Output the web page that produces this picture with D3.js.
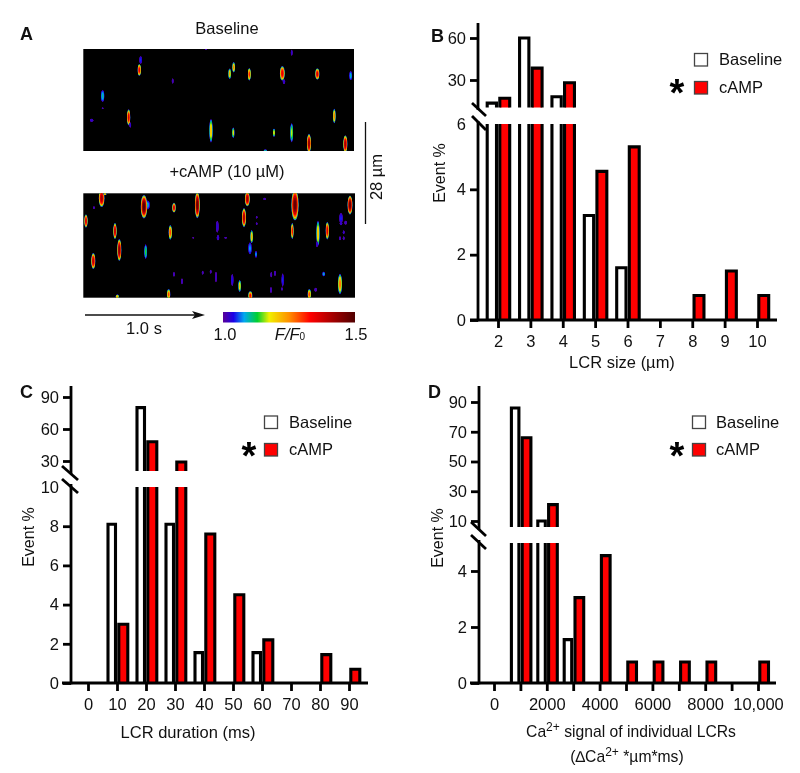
<!DOCTYPE html>
<html><head><meta charset="utf-8">
<script src="https://cdn.jsdelivr.net/npm/d3@7"></script>
<style>
html,body{margin:0;padding:0;background:#fff}
svg{display:block;filter:blur(0.35px)}
text{font-family:"Liberation Sans",Arial,sans-serif;fill:#111}
</style></head><body><svg id="fig" width="800" height="773"></svg>
<script>
// ---------- Panel B: LCR size ----------
const sizeCategories = [2,3,4,5,6,7,8,9,10];
const sizeBaseline   = [13.5,60,18,3.2,1.6,0,0,0,0];
const sizeCamp       = [17,38.5,28,4.55,5.3,0,0.75,1.5,0.75];
// ---------- Panel C: LCR duration ----------
const durationCategories = [0,10,20,30,40,50,60,70,80,90];
const durationBaseline   = [0,8.1,80,8.1,1.55,0,1.55,0,0,0];
const durationCamp       = [0,3,48,29,7.6,4.5,2.2,0,1.45,0.7];
// ---------- Panel D: Ca2+ signal ----------
const signalCategories = [0,1000,2000,3000,4000,5000,6000,7000,8000,9000,10000];
const signalBaseline   = [0,86,10,1.55,0,0,0,0,0,0,0];
const signalCamp       = [0,66,21,3.05,4.55,0.75,0.75,0.75,0.75,0,0.75];
const signalLabels     = ["0","2000","4000","6000","8000","10,000"];
// ---------- Panel A: line-scan events [line, row, halfRows, halfLines, peak F/F0] ----------
const baselineEvents = [
[182,60,10,3,1.05],[178,90,16,4,1.36],[378,28,2,2,1.02],[635,38,8,2,1.03],[461,82,14,3,1.27],
[449,101,14,3,1.24],[508,103,17,3.5,1.32],[607,100,20,6,1.36],[612,125,6,3,1.03],[712,102,15,5,1.38],
[812,107,12,3,1.1],[278,123,7,2,1.02],[68,168,16,4,1.1],[68,205,2,2,1.02],[35,241,4,4,1.03],
[146,232,22,4,1.38],[151,255,7,2,1.03],[763,228,20,3,1.27],[393,272,32,4,1.22],[460,278,14,2.5,1.2],
[582,278,11,2.5,1.2],[635,278,26,3.5,1.17],[687,310,26,5,1.44],[796,312,24,5,1.42],[556,333,4,4,1.12]];
const campEvents = [
[65,40,24,7,1.42],[75,27,3,4,1.25],[200,60,12,8,1.1],[192,65,32,8,1.5],[352,60,36,6,1.48],[502,42,20,6,1.42],
[645,60,42,9,1.48],[810,60,26,6,1.48],[42,68,3,2,1.02],[282,68,13,4,1.38],[554,42,3,3,1.02],[18,108,18,4,1.38],
[105,138,22,4,1.4],[118,195,30,5,1.45],[40,228,22,5,1.4],[492,98,26,5,1.42],[271,142,20,4,1.3],[197,200,20,3,1.14],
[412,125,16,3,1.03],[414,158,7,3,1.03],[437,158,2,3,1.02],[340,158,2,2,1.01],[515,155,18,3,1.24],[510,190,16,4,1.08],
[528,208,9,2.5,1.08],[530,97,3,2,1.02],[530,116,3,2,1.02],[637,138,22,3,1.34],[714,145,34,4,1.22],[711,178,8,2,1.03],
[742,137,24,4,1.37],[783,100,14,4,1.05],[797,113,5,3,1.02],[783,115,5,3,1.03],[791,142,5,2,1.03],[780,160,5,2,1.02],
[791,160,5,2,1.02],[282,268,6,2,1.02],[306,289,8,2,1.02],[368,263,5,2,1.02],[392,260,5,2,1.02],[408,276,14,2,1.02],
[457,285,16,2.5,1.04],[479,303,16,3,1.22],[574,269,7,2,1.02],[585,265,7,2,1.02],[573,315,8,2,1.02],[608,285,18,2.5,1.05],
[606,312,4,2,1.02],[731,267,6,3,1.1],[707,314,5,3,1.02],[780,297,28,5,1.27],[112,335,6,4,1.24],[266,328,14,4,1.3],
[511,332,12,5,1.34],[688,328,14,4,1.3]];
const ratioStops  = [1.0,1.04,1.08,1.13,1.175,1.25,1.33,1.42,1.5];
const ratioColors = ["#5a0098","#1a00e8","#00a8f0","#00d030","#f0f000","#ff9000","#ff0000","#a00000","#500000"];

const svg = d3.select("#fig");
const FS = 16.5;
const ratioColor = d3.scaleLinear().domain(ratioStops).range(ratioColors);
const defs = svg.append("defs");
defs.append("filter").attr("id","soft").append("feGaussianBlur").attr("stdDeviation",0.4);

function lineScan(id, events, xDom, yDom, xRange, yRange){
  const x = d3.scaleLinear().domain(xDom).range(xRange);
  const y = d3.scaleLinear().domain(yDom).range(yRange);
  defs.append("clipPath").attr("id",id).append("rect")
    .attr("x",xRange[0]).attr("y",yRange[0]).attr("width",xRange[1]-xRange[0]).attr("height",yRange[1]-yRange[0]);
  svg.append("rect").attr("x",xRange[0]).attr("y",yRange[0]).attr("width",xRange[1]-xRange[0]).attr("height",yRange[1]-yRange[0]).attr("fill","#000");
  const g = svg.append("g").attr("clip-path",`url(#${id})`).append("g").attr("filter","url(#soft)");
  const fractions = [0,.15,.3,.42,.55,.68,.8,.92,1];
  events.forEach(e=>{
    const [cx,cy,hr,hl,peak] = e;
    fractions.forEach(f=>{
      const level = 1 + (peak-1)*f;
      const k = Math.sqrt(1-0.9*Math.pow(f,1.6));
      g.append("ellipse").attr("cx",x(cx)).attr("cy",y(cy))
       .attr("rx",(x(hl)-x(0))*k*1.2).attr("ry",(y(hr)-y(0))*k*1.1).attr("fill",ratioColor(level));
    });
  });
}
lineScan("scan1",baselineEvents,[10,822],[27,333],[83.3,354],[49,151]);
lineScan("scan2",campEvents,[10,825],[25,338],[83.3,355],[193.3,297.7]);

function txt(x,y,s,o={}){
  const t = svg.append("text").attr("x",x).attr("y",y).text(s)
    .attr("font-size",o.size||FS).attr("text-anchor",o.anchor||"start");
  if(o.weight) t.attr("font-weight",o.weight);
  if(o.rotate) t.attr("transform",`rotate(${o.rotate} ${x} ${y})`);
  return t;
}
txt(20,40,"A",{size:18,weight:"bold"});
txt(227,34,"Baseline",{anchor:"middle"});
txt(227,177,"+cAMP (10 µM)",{anchor:"middle"});
svg.append("line").attr("x1",365.5).attr("x2",365.5).attr("y1",122).attr("y2",224).attr("stroke","#111").attr("stroke-width",1.3);
txt(382,177,"28 µm",{anchor:"middle",rotate:-90});
svg.append("line").attr("x1",85).attr("x2",196).attr("y1",315).attr("y2",315).attr("stroke","#111").attr("stroke-width",1.3);
svg.append("path").attr("d","M192,311 L205,315 L192,319 L195,315 Z").attr("fill","#111");
txt(144,334,"1.0 s",{anchor:"middle"});
// colour bar
const bar = d3.scaleLinear().domain([1,1.5]).range([223,355]);
const grad = defs.append("linearGradient").attr("id","cbar");
ratioStops.forEach((s,i)=>grad.append("stop").attr("offset",(s-1)/.5).attr("stop-color",ratioColors[i]));
svg.append("rect").attr("x",bar(1)).attr("y",312).attr("width",bar(1.5)-bar(1)).attr("height",10.5).attr("fill","url(#cbar)");
txt(bar(1)+2,340,"1.0",{anchor:"middle"});
txt(bar(1.5)+1,340,"1.5",{anchor:"middle"});
const ff = txt(290,340,"",{anchor:"middle"});
ff.append("tspan").attr("font-style","italic").text("F/F");
ff.append("tspan").attr("font-size",10).text("0");

function panel(c){
  const g = svg.append("g");
  const x = d3.scaleLinear().domain(c.xDomain).range(c.xRange);
  const low = d3.scaleLinear().domain(c.lowDomain).range(c.lowRange);
  const up  = d3.scaleLinear().domain(c.upDomain).range(c.upRange);
  const lowTop = c.lowRange[1], upBottom = c.upCut;
  const sw = 3.1;
  const drawBar = (v,x0,x1,fill)=>{
    if(!v) return;
    if(v > c.lowDomain[1]){
      g.append("path").attr("d",`M${x0},${upBottom}V${up(v)}H${x1}V${upBottom}`).attr("fill",fill).attr("stroke","#000").attr("stroke-width",sw);
      g.append("rect").attr("x",x0).attr("y",lowTop).attr("width",x1-x0).attr("height",low(0)-lowTop).attr("fill",fill);
      g.append("path").attr("d",`M${x0},${low(0)}V${lowTop}M${x1},${lowTop}V${low(0)}`).attr("stroke","#000").attr("stroke-width",sw);
    } else {
      g.append("path").attr("d",`M${x0},${low(0)}V${low(v)}H${x1}V${low(0)}`).attr("fill",fill).attr("stroke","#000").attr("stroke-width",sw);
    }
  };
  c.cats.forEach((cat,i)=>{
    const t = x(cat);
    drawBar(c.base[i],t-c.baseW,t-1.5,"#fff");
    drawBar(c.camp[i],t+1.8,t+c.campW,"#ff0000");
  });
  const styleAxis = a=>{
    a.selectAll("line").attr("stroke","#000").attr("stroke-width",2.8);
    a.selectAll("path.domain").remove();
    a.selectAll("text").attr("font-size",FS).attr("font-family",null);
  };
  const xa = g.append("g").attr("transform",`translate(0,${low(0)})`)
    .call(d3.axisBottom(x).tickValues(c.cats).tickSize(8).tickPadding(c.xPad).tickFormat(c.xFormat));
  styleAxis(xa);
  const la = g.append("g").attr("transform",`translate(${c.axisX},0)`)
    .call(d3.axisLeft(low).tickValues(c.lowTicks).tickSize(8).tickPadding(4).tickFormat(d=>d));
  styleAxis(la);
  la.selectAll(".tick").filter(d=>d===c.noTick).select("line").remove();
  const ua = g.append("g").attr("transform",`translate(${c.axisX},0)`)
    .call(d3.axisLeft(up).tickValues(c.upTicks).tickSize(8).tickPadding(4).tickFormat(d=>d));
  styleAxis(ua);
  const ln = (x1,y1,x2,y2)=>g.append("line").attr("x1",x1).attr("y1",y1).attr("x2",x2).attr("y2",y2).attr("stroke","#000").attr("stroke-width",2.8);
  ln(c.axisX,c.axisTop,c.axisX,c.slash1[3]-6);
  ln(c.axisX,c.slash2[1]+5,c.axisX,low(0)+1.3);
  ln(c.axisStart,low(0),c.axisEnd,low(0));
  ln(...c.slash1); ln(...c.slash2);
  txt(c.yLabelX,c.yLabelY,"Event %",{anchor:"middle",rotate:-90,size:16});
  txt(c.letter[0],c.letter[1],c.letter[2],{size:18,weight:"bold"});
  const L = c.legend;
  svg.append("rect").attr("x",L.x).attr("y",L.y1).attr("width",13).attr("height",12.5).attr("fill","#fff").attr("stroke","#444").attr("stroke-width",1.3);
  svg.append("rect").attr("x",L.x).attr("y",L.y2).attr("width",13).attr("height",12.5).attr("fill","#ff0000").attr("stroke","#444").attr("stroke-width",1.3);
  txt(L.tx,L.y1+11.5,"Baseline");
  txt(L.tx,L.y2+11.5,"cAMP");
  txt(L.ax,L.ay+20,"*",{size:38,weight:"bold",anchor:"middle"}).style("fill","#000");
}

panel({cats:sizeCategories,base:sizeBaseline,camp:sizeCamp,xDomain:[2,10],xRange:[498,757],
  lowDomain:[0,6],lowRange:[320,124],upDomain:[30,60],upRange:[80,38],upCut:107.5,
  lowTicks:[0,2,4,6],upTicks:[30,60],noTick:6,baseW:10.8,campW:11.7,xPad:7,xFormat:d=>d,
  axisX:478,axisTop:23,axisStart:470,axisEnd:777,slash1:[472,103,486,116],slash2:[472,116,486,130],
  yLabelX:445,yLabelY:173,letter:[431,42,"B"],
  legend:{x:694.5,y1:53.5,y2:81.5,tx:719,ax:677,ay:86}});
txt(622,368,"LCR size (µm)",{anchor:"middle"});

panel({cats:durationCategories,base:durationBaseline,camp:durationCamp,xDomain:[0,90],xRange:[88,349],
  lowDomain:[0,10],lowRange:[683,487],upDomain:[30,90],upRange:[461,397],upCut:471,
  lowTicks:[0,2,4,6,8,10],upTicks:[30,60,90],noTick:10,baseW:9,campW:10.8,xPad:7,xFormat:d=>d,
  axisX:71,axisTop:386,axisStart:62,axisEnd:368,slash1:[62,466,78,480],slash2:[62,479,78,493],
  yLabelX:34,yLabelY:537,letter:[20,398,"C"],
  legend:{x:264.5,y1:416,y2:443.5,tx:289,ax:249,ay:449}});
txt(188,738,"LCR duration (ms)",{anchor:"middle"});

panel({cats:signalCategories,base:signalBaseline,camp:signalCamp,xDomain:[0,10000],xRange:[494,758],
  lowDomain:[0,5],lowRange:[683,543],upDomain:[10,90],upRange:[521,402],upCut:527,
  lowTicks:[0,2,4],upTicks:[10,30,50,70,90],noTick:-1,baseW:9,campW:10.5,xPad:7,
  xFormat:d=>(d%2000===0? signalLabels[d/2000] : ""),
  axisX:479,axisTop:386,axisStart:470,axisEnd:776,slash1:[471,522,486,536],slash2:[471,535,486,549],
  yLabelX:443,yLabelY:538,letter:[428,398,"D"],
  legend:{x:692.5,y1:416,y2:443.5,tx:716,ax:677,ay:449}});
const caLine = (xc,y,parts)=>{
  const t = txt(xc,y,"",{anchor:"middle",size:15.7});
  parts.forEach(p=>{
    const s = t.append("tspan").text(p[0]);
    if(p[1]) s.attr("font-size",12).attr("dy",-6);
    if(p[2]) s.attr("dy",6);
  });
};
caLine(631,737,[["Ca"],["2+",1],[" signal of individual LCRs",0,1]]);
caLine(627,762,[["(∆Ca"],["2+",1],[" *µm*ms)",0,1]]);
</script></body></html>
